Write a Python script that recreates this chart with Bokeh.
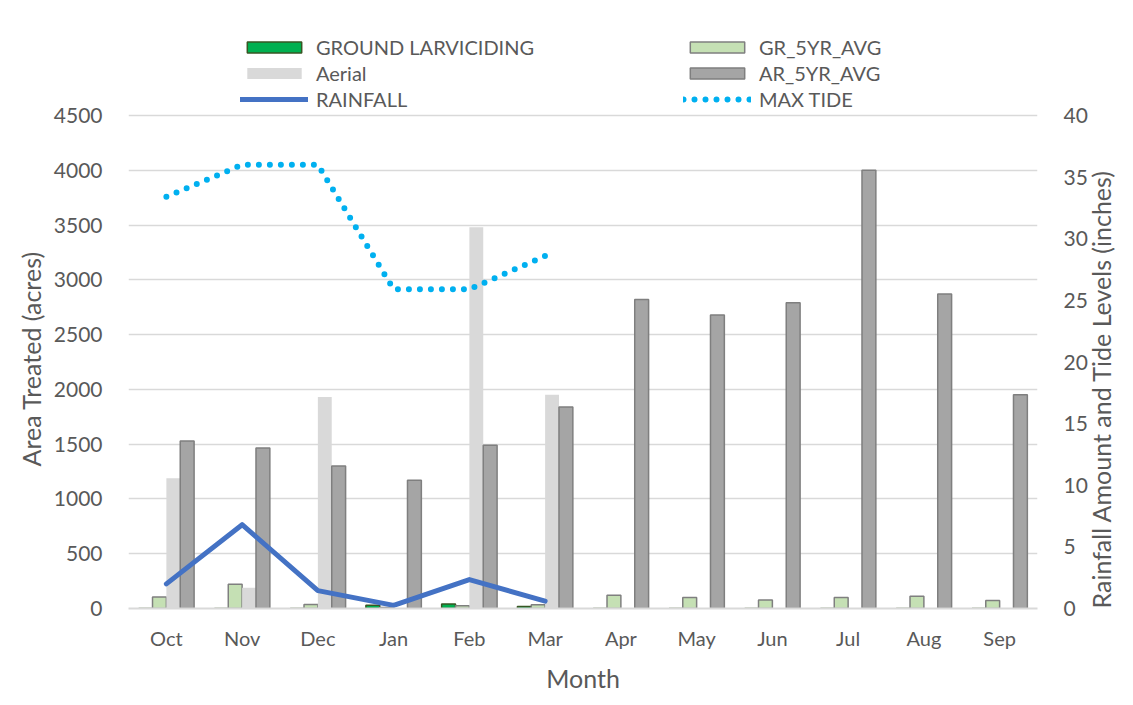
import math
from bokeh.plotting import figure
from bokeh.models import (ColumnDataSource, Range1d, LinearAxis, FixedTicker,
                          Legend, LegendItem, FactorRange, Title)
from bokeh.transform import dodge
from bokeh.embed import file_html
from bokeh.resources import INLINE

months = ["Oct", "Nov", "Dec", "Jan", "Feb", "Mar", "Apr", "May", "Jun", "Jul", "Aug", "Sep"]
ground_larviciding = [0, 0, 0, 30, 40, 18, 0, 0, 0, 0, 0, 0]
gr_5yr_avg = [106, 222, 36, 10, 25, 35, 121, 100, 78, 100, 112, 73]
aerial = [1190, 190, 1930, 0, 3480, 1950, 0, 0, 0, 0, 0, 0]
ar_5yr_avg = [1530, 1465, 1300, 1170, 1490, 1840, 2820, 2680, 2790, 4000, 2870, 1950]
rain_months = ["Oct", "Nov", "Dec", "Jan", "Feb", "Mar"]
rainfall = [2.0, 6.8, 1.45, 0.25, 2.35, 0.6]
max_tide = [33.4, 36.0, 36.0, 25.9, 25.9, 28.6]
left_ticks = [0, 500, 1000, 1500, 2000, 2500, 3000, 3500, 4000, 4500]
right_ticks = [0, 5, 10, 15, 20, 25, 30, 35, 40]

FONT = "Lato"
GREY = "#595959"

# frame spans from the legend area (top) to the axis; value axes top out at 4500 / 40
AXIS_TOP_PX, FRAME_TOP_PX, FRAME_BOTTOM_PX = 115, 30, 608
stretch = (FRAME_BOTTOM_PX - FRAME_TOP_PX) / (FRAME_BOTTOM_PX - AXIS_TOP_PX)

src = ColumnDataSource(dict(month=months, ground=ground_larviciding, gr5=gr_5yr_avg,
                            aerial=aerial, ar5=ar_5yr_avg))
lsrc = ColumnDataSource(dict(month=rain_months, rain=rainfall, tide=max_tide))

p = figure(x_range=FactorRange(*months), y_range=Range1d(0, left_ticks[-1] * stretch),
           width=1133, height=705, output_backend="svg", toolbar_location=None,
           min_border_left=128, min_border_right=87, min_border_top=30, min_border_bottom=97)
p.extra_y_ranges = {"right": Range1d(0, right_ticks[-1] * stretch)}
p.x_range.range_padding = 0
p.outline_line_color = None
p.background_fill_color = "white"
p.border_fill_color = "white"

w = 0.183
r_g = p.vbar(x=dodge("month", -1.5 * w, range=p.x_range), top="ground", width=w, source=src,
             fill_color="#00b050", line_color="#375623", line_width=1.5)
r_g5 = p.vbar(x=dodge("month", -0.5 * w, range=p.x_range), top="gr5", width=w, source=src,
              fill_color="#c5e0b4", line_color="#7f7f7f", line_width=1.5)
r_a = p.vbar(x=dodge("month", 0.5 * w, range=p.x_range), top="aerial", width=w, source=src,
             fill_color="#d9d9d9", line_color=None)
r_a5 = p.vbar(x=dodge("month", 1.5 * w, range=p.x_range), top="ar5", width=w, source=src,
              fill_color="#a5a5a5", line_color="#7f7f7f", line_width=1.5)
r_rain = p.line(x="month", y="rain", source=lsrc, y_range_name="right",
                line_color="#4472c4", line_width=5, line_join="round", line_cap="round")
r_tide = p.line(x="month", y="tide", source=lsrc, y_range_name="right",
                line_color="#00b0f0", line_width=6, line_dash="0 11", line_cap="round")

# axes
yax = p.yaxis[0]
yax.ticker = FixedTicker(ticks=left_ticks)
raxis = LinearAxis(y_range_name="right", ticker=FixedTicker(ticks=right_ticks))
p.add_layout(raxis, "right")
for ax in [yax, raxis]:
    ax.axis_line_color = None
    ax.major_tick_line_color = None
    ax.minor_tick_line_color = None
    ax.major_label_text_font = FONT
    ax.major_label_text_font_size = "21px"
    ax.major_label_text_color = GREY
    ax.major_label_standoff = 20

ltitle = Title(text="Area Treated (acres)", align="left", offset=142, standoff=10,
               text_font=FONT, text_font_size="25px", text_font_style="normal",
               text_color=GREY)
p.add_layout(ltitle, "left")

RIGHT_LABEL = "Rainfall Amount and Tide Levels  (inches)"
props = raxis.properties()
if "axis_label_orientation" in props and "axis_label_align" in props:
    raxis.axis_label = RIGHT_LABEL
    raxis.axis_label_orientation = math.pi / 2
    raxis.axis_label_align = "start"
    raxis.axis_label_text_font = FONT
    raxis.axis_label_text_font_size = "25px"
    raxis.axis_label_text_font_style = "normal"
    raxis.axis_label_text_color = GREY
    raxis.axis_label_standoff = 10
else:
    rtitle = Title(text=RIGHT_LABEL, align="left", offset=92,
                   standoff=6, text_font=FONT, text_font_size="25px", text_font_style="normal",
                   text_color=GREY)
    p.add_layout(rtitle, "right")

xax = p.xaxis[0]
xax.axis_label = "Month"
xax.axis_line_color = "#d9d9d9"
xax.axis_line_width = 2
xax.major_tick_line_color = None
xax.minor_tick_line_color = None
xax.major_label_text_font = FONT
xax.major_label_text_font_size = "20px"
xax.major_label_text_color = GREY
xax.major_label_standoff = 11
xax.axis_label_text_font = FONT
xax.axis_label_text_font_size = "25px"
xax.axis_label_text_font_style = "normal"
xax.axis_label_text_color = GREY
xax.axis_label_standoff = 10

p.xgrid.grid_line_color = None
p.ygrid.grid_line_color = "#d9d9d9"
p.ygrid.grid_line_width = 1.5

def make_legend(items, x, y):
    return Legend(items=items, location=(x, y), orientation="vertical",
                  glyph_width=68, glyph_height=14, label_height=20, spacing=2,
                  label_standoff=8, padding=0, margin=0,
                  border_line_color=None, background_fill_alpha=0,
                  label_text_font=FONT, label_text_font_size="20px", label_text_color=GREY)

leg1 = make_legend([LegendItem(label="GROUND LARVICIDING", renderers=[r_g]),
                    LegendItem(label="Aerial", renderers=[r_a]),
                    LegendItem(label="RAINFALL", renderers=[r_rain])], 112, 497)
leg2 = make_legend([LegendItem(label="GR_5YR_AVG", renderers=[r_g5]),
                    LegendItem(label="AR_5YR_AVG", renderers=[r_a5]),
                    LegendItem(label="MAX TIDE", renderers=[r_tide])], 555, 497)
p.add_layout(leg1, "center")
p.add_layout(leg2, "center")

open("out.html", "w").write(file_html(p, INLINE))
